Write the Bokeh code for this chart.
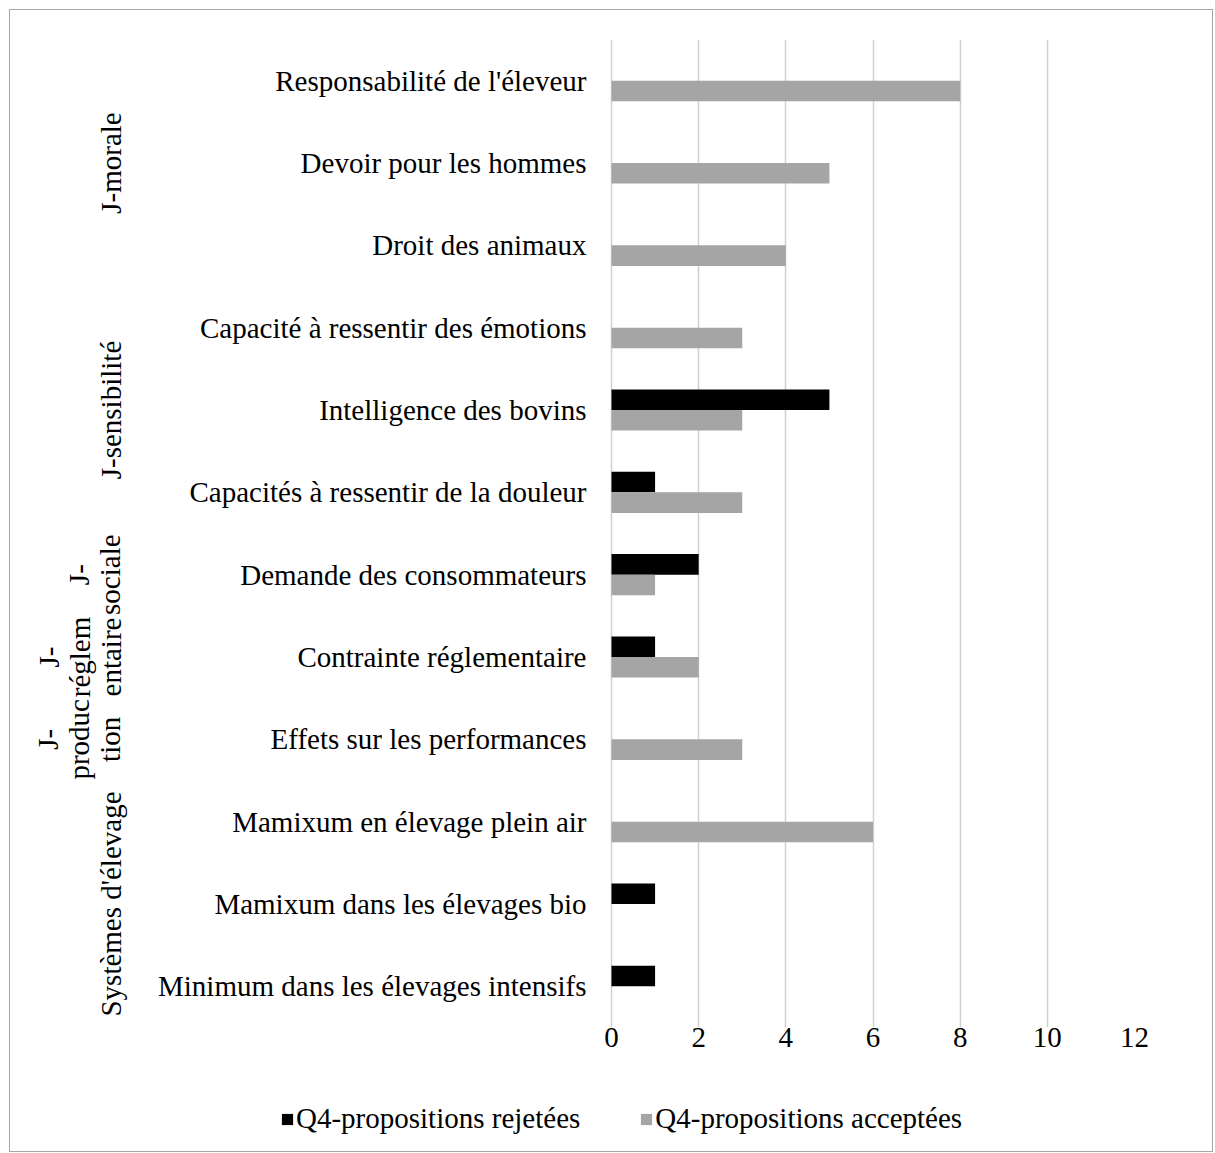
import math
from bokeh.plotting import figure
from bokeh.layouts import column
from bokeh.models import (ColumnDataSource, Range1d, FixedTicker, LabelSet,
                          Legend, LegendItem)
from bokeh.embed import file_html
from bokeh.resources import INLINE

# ---------------- data ----------------
categories = [
    "Responsabilité de l'éleveur",
    "Devoir pour les hommes",
    "Droit des animaux",
    "Capacité à ressentir des émotions",
    "Intelligence des bovins",
    "Capacités à ressentir de la douleur",
    "Demande des consommateurs",
    "Contrainte réglementaire",
    "Effets sur les performances",
    "Mamixum en élevage plein air",
    "Mamixum dans les élevages bio",
    "Minimum dans les élevages intensifs",
]
rejetees = [0, 0, 0, 0, 5, 1, 2, 1, 0, 0, 1, 1]
acceptees = [8, 5, 4, 3, 3, 3, 1, 2, 3, 6, 0, 0]
series_names = ["Q4-propositions rejetées", "Q4-propositions acceptées"]
x_ticks = [0, 2, 4, 6, 8, 10, 12]

# group labels (wrapped as in the original), and number of categories each spans
group_lines = [
    ["J-morale"],
    ["J-sensibilité"],
    ["J-", "sociale"],
    ["J-", "réglem", "entaire"],
    ["J-", "produc", "tion"],
    ["Systèmes d'élevage"],
]
group_sizes = [3, 3, 1, 1, 1, 3]

# ---------------- style / layout ----------------
FONT = "Liberation Serif"
FS = "29px"
BLACK = "#000000"
GREY = "#a5a5a5"
GRID = "#d0d0d0"

W = 1202
H_MAIN = 1080
H_LEG = 61
X_MAX = 12
BAR_H = 0.25
MB_RIGHT = 78
CANVAS_LEFT_PX = 10      # page x where the canvas starts
ZERO_PX = 611            # page x of value 0
RIGHT_PX = CANVAS_LEFT_PX + W - MB_RIGHT
LABEL_GAP = 25           # gap between category labels and value 0
LINE_BASELINES_PX = [58, 89, 120]  # rotated group-label line baselines (page x)

x_lo = -X_MAX * (ZERO_PX - CANVAS_LEFT_PX) / (RIGHT_PX - ZERO_PX)

n_cat = len(categories)
cat_pos = [n_cat - i - 0.5 for i in range(n_cat)]  # first category on top

p = figure(
    width=W, height=H_MAIN,
    y_range=Range1d(0, n_cat),
    x_range=Range1d(x_lo, X_MAX),
    y_axis_type=None,
    output_backend="svg", toolbar_location=None,
    min_border_left=0, min_border_right=MB_RIGHT,
    min_border_top=29, min_border_bottom=63,
)
p.outline_line_color = None
p.background_fill_color = "white"
p.border_fill_color = "white"

src = ColumnDataSource(dict(
    y_rej=[c + BAR_H / 2 for c in cat_pos],
    y_acc=[c - BAR_H / 2 for c in cat_pos],
    rej=rejetees, acc=acceptees,
))
p.hbar(y="y_rej", left=0, right="rej", height=BAR_H,
       fill_color=BLACK, line_color=None, source=src)
p.hbar(y="y_acc", left=0, right="acc", height=BAR_H,
       fill_color=GREY, line_color=None, source=src)

# x axis
xax = p.xaxis[0]
xax.ticker = FixedTicker(ticks=x_ticks)
xax.axis_line_color = None
xax.major_tick_line_color = None
xax.minor_tick_line_color = None
xax.major_tick_in = 0
xax.major_tick_out = 0
xax.minor_tick_in = 0
xax.minor_tick_out = 0
xax.major_label_standoff = 0
xax.major_label_text_font = FONT
xax.major_label_text_font_size = FS
xax.major_label_text_color = BLACK

p.xgrid.grid_line_color = GRID
p.xgrid.grid_line_width = 1.5

# category labels
cat_src = ColumnDataSource(dict(x=[0] * n_cat, y=cat_pos, text=categories))
p.add_layout(LabelSet(x="x", y="y", text="text", source=cat_src,
                      x_offset=-LABEL_GAP, text_align="right", text_baseline="middle",
                      text_font=FONT, text_font_size=FS, text_color=BLACK))

# group labels (rotated, wrapped lines; the last line sits nearest the categories)
gx, gy, gt, goff = [], [], [], []
start = 0
for lines, size in zip(group_lines, group_sizes):
    yc = n_cat - start - size / 2.0
    k = len(lines)
    for j, txt in enumerate(lines):
        gx.append(0)
        gy.append(yc)
        gt.append(txt)
        goff.append(LINE_BASELINES_PX[3 - k + j] - ZERO_PX)
    start += size
grp_src = ColumnDataSource(dict(x=gx, y=gy, text=gt, off=goff))
p.add_layout(LabelSet(x="x", y="y", text="text", source=grp_src, x_offset="off",
                      angle=math.pi / 2, text_align="center", text_baseline="alphabetic",
                      text_font=FONT, text_font_size=FS, text_color=BLACK))

# ---------------- legend strip ----------------
pl = figure(width=W, height=H_LEG, x_range=Range1d(0, 1), y_range=Range1d(100, 101),
            x_axis_type=None, y_axis_type=None,
            output_backend="svg", toolbar_location=None,
            min_border_left=0, min_border_right=MB_RIGHT,
            min_border_top=0, min_border_bottom=0)
pl.outline_line_color = None
pl.background_fill_color = "white"
pl.border_fill_color = "white"
lr_rej = pl.hbar(y="y_rej", left=0, right="rej", height=BAR_H,
                 fill_color=BLACK, line_color=None, source=src)
lr_acc = pl.hbar(y="y_acc", left=0, right="acc", height=BAR_H,
                 fill_color=GREY, line_color=None, source=src)
legend = Legend(
    items=[LegendItem(label=series_names[0], renderers=[lr_rej]),
           LegendItem(label=series_names[1], renderers=[lr_acc])],
    orientation="horizontal", location=(280 - CANVAS_LEFT_PX, 16),
    glyph_width=14, glyph_height=14, label_standoff=2, spacing=59,
    padding=0, margin=0, border_line_color=None, background_fill_alpha=0,
    label_text_font=FONT, label_text_font_size=FS, label_text_color=BLACK,
)
pl.add_layout(legend)

layout = column(p, pl, spacing=0)
layout.margin = (9, 0, 0, 9)
layout.styles = {"border": "1px solid #a6a6a6"}

open("out.html", "w").write(file_html(layout, INLINE))
